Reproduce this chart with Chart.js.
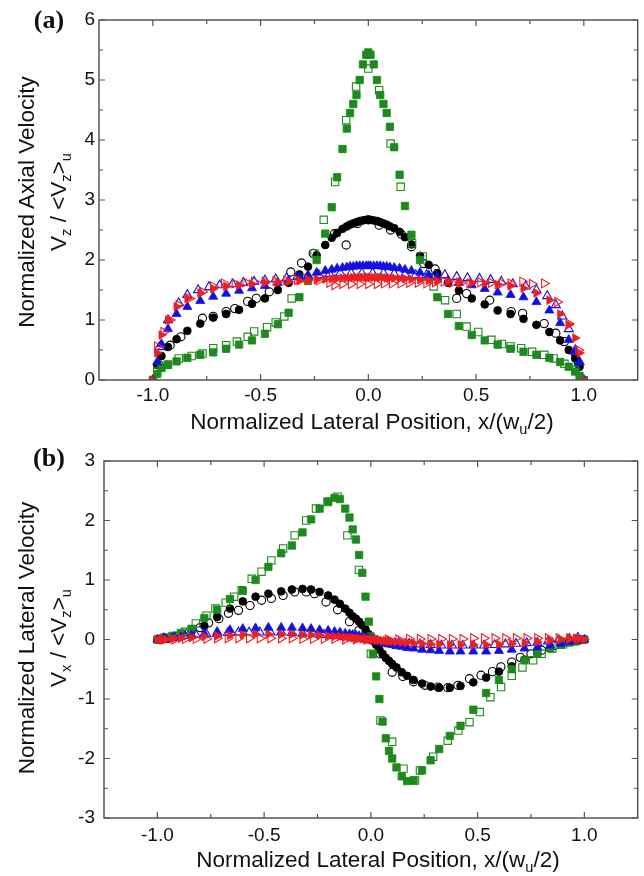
<!DOCTYPE html>
<html>
<head>
<meta charset="utf-8">
<script src="https://cdn.jsdelivr.net/npm/chart.js@4.4.1/dist/chart.umd.min.js"></script>
<style>
body { margin: 0; background: #fff; }
#page { position: relative; width: 644px; height: 876px; overflow: hidden; background: #fff; }
canvas { position: absolute; left: 0; }
.t { position: absolute; white-space: nowrap; font-family: "Liberation Sans", Arial, sans-serif; font-size: 22.5px; color: #111; transform: translate(-50%, -50%); line-height: 1; }
.v { transform: translate(-50%, -50%) rotate(-90deg); }
.t sub { font-size: 65%; vertical-align: -0.35em; }
.p { position: absolute; font-family: "Liberation Serif", "Times New Roman", serif; font-weight: bold; font-size: 26px; color: #111; transform: translate(-50%, -50%); line-height: 1; }
</style>
</head>
<body>
<div id="page">
  <canvas id="chartA" width="644" height="440" style="top:0"></canvas>
  <canvas id="chartB" width="644" height="436" style="top:440px"></canvas>

  <div class="p" style="left:49px; top:20px">(a)</div>
  <div class="t v" style="left:27px; top:202px">Normalized Axial Velocity</div>
  <div class="t v" style="left:61px; top:202px">V<sub>z</sub> / &lt;V<sub>z</sub>&gt;<sub>u</sub></div>
  <div class="t" style="left:372px; top:424px">Normalized Lateral Position, x/(w<sub>u</sub>/2)</div>

  <div class="p" style="left:49px; top:458px">(b)</div>
  <div class="t v" style="left:27px; top:638px">Normalized Lateral Velocity</div>
  <div class="t v" style="left:61px; top:638px">V<sub>x</sub> / &lt;V<sub>z</sub>&gt;<sub>u</sub></div>
  <div class="t" style="left:378px; top:862px">Normalized Lateral Position, x/(w<sub>u</sub>/2)</div>
</div>

<script>
// axis ticks
const xTickVals = [-1.0, -0.5, 0.0, 0.5, 1.0];
const xMarks = [-1.0, -0.75, -0.5, -0.25, 0.0, 0.25, 0.5, 0.75, 1.0];
const yTicksA = [0, 1, 2, 3, 4, 5, 6];
const yMarksA = [0, 0.5, 1, 1.5, 2, 2.5, 3, 3.5, 4, 4.5, 5, 5.5, 6];
const yTicksB = [-3, -2, -1, 0, 1, 2, 3];
const yMarksB = [-3, -2.5, -2, -1.5, -1, -0.5, 0, 0.5, 1, 1.5, 2, 2.5, 3];

// lateral positions of the dense (filled symbol) profiles
const xFine = [-1.0, -0.98, -0.96, -0.93, -0.89, -0.84, -0.78, -0.72, -0.66, -0.6, -0.54, -0.48, -0.42, -0.37, -0.32, -0.28, -0.24, -0.2, -0.17, -0.145, -0.12, -0.1, -0.085, -0.07, -0.055, -0.04, -0.025, -0.01,
  0,
  0.01, 0.025, 0.04, 0.055, 0.07, 0.085, 0.1, 0.12, 0.145, 0.17, 0.2, 0.24, 0.28, 0.32, 0.37, 0.42, 0.48, 0.54, 0.6, 0.66, 0.72, 0.78, 0.84, 0.89, 0.93, 0.96, 0.98, 1.0];

// (a) axial velocity, filled symbols
const greenFillA = [0.0, 0.1, 0.2, 0.25, 0.31, 0.37, 0.42, 0.46, 0.52, 0.59, 0.66, 0.77, 0.93, 1.12, 1.38, 1.65, 2.0, 2.44, 2.88, 3.38, 3.85, 4.19, 4.45, 4.6, 4.75, 5.0, 5.26, 5.42, 5.46, 5.42, 5.26, 5.0, 4.75, 4.6, 4.45, 4.22, 3.88, 3.42, 2.9, 2.42, 2.0, 1.72, 1.38, 1.1, 0.9, 0.75, 0.66, 0.59, 0.52, 0.47, 0.42, 0.37, 0.3, 0.22, 0.14, 0.07, 0.0];
const blackFillA = [0.0, 0.25, 0.4, 0.55, 0.68, 0.82, 0.94, 1.04, 1.1, 1.17, 1.27, 1.36, 1.5, 1.62, 1.76, 1.89, 2.08, 2.25, 2.37, 2.45, 2.52, 2.56, 2.59, 2.61, 2.63, 2.65, 2.66, 2.67, 2.67, 2.67, 2.66, 2.65, 2.63, 2.61, 2.59, 2.56, 2.53, 2.47, 2.38, 2.26, 2.07, 1.92, 1.78, 1.62, 1.49, 1.36, 1.26, 1.16, 1.1, 1.02, 0.92, 0.8, 0.66, 0.5, 0.36, 0.22, 0.0];
const blueFillA = [0.0, 0.3, 0.6, 0.85, 1.1, 1.22, 1.32, 1.39, 1.44, 1.49, 1.53, 1.57, 1.62, 1.66, 1.71, 1.75, 1.79, 1.82, 1.84, 1.86, 1.87, 1.88, 1.89, 1.89, 1.9, 1.9, 1.9, 1.9, 1.9, 1.9, 1.9, 1.9, 1.9, 1.89, 1.89, 1.88, 1.87, 1.86, 1.84, 1.82, 1.79, 1.75, 1.71, 1.66, 1.62, 1.58, 1.52, 1.46, 1.42, 1.38, 1.3, 1.16, 0.95, 0.67, 0.47, 0.3, 0.0];
const redFillA = [0.0, 0.45, 0.75, 1.0, 1.22, 1.36, 1.45, 1.52, 1.56, 1.58, 1.6, 1.62, 1.63, 1.64, 1.65, 1.66, 1.67, 1.68, 1.69, 1.69, 1.7, 1.7, 1.7, 1.71, 1.71, 1.71, 1.71, 1.71, 1.71, 1.71, 1.71, 1.71, 1.71, 1.71, 1.7, 1.7, 1.7, 1.69, 1.69, 1.68, 1.67, 1.66, 1.65, 1.64, 1.63, 1.62, 1.61, 1.59, 1.57, 1.53, 1.45, 1.33, 1.1, 0.92, 0.7, 0.45, 0.0];

// (a) axial velocity, open symbols
const greenOpenAx = [-0.98, -0.93, -0.88, -0.82, -0.77, -0.72, -0.66, -0.61, -0.56, -0.53, -0.47, -0.43, -0.39, -0.356, -0.3, -0.25, -0.207, -0.154, -0.103, -0.057, 0.0, 0.05, 0.103, 0.15, 0.203, 0.252, 0.303, 0.356, 0.41, 0.456, 0.51, 0.571, 0.62, 0.66, 0.709, 0.76, 0.816, 0.86, 0.91, 0.96];
const greenOpenAy = [0.14, 0.26, 0.36, 0.4, 0.44, 0.53, 0.58, 0.64, 0.72, 0.81, 0.88, 0.96, 1.06, 1.36, 1.7, 2.11, 2.67, 3.3, 4.33, 4.89, 5.19, 4.83, 3.94, 3.22, 2.28, 2.06, 1.56, 1.33, 1.1, 0.89, 0.8, 0.67, 0.6, 0.56, 0.53, 0.47, 0.42, 0.36, 0.27, 0.17];
const blackOpenAx = [-0.97, -0.92, -0.87, -0.77, -0.72, -0.66, -0.62, -0.56, -0.52, -0.46, -0.36, -0.31, -0.256, -0.157, -0.103, -0.05, 0.0, 0.05, 0.103, 0.153, 0.2, 0.257, 0.31, 0.41, 0.456, 0.563, 0.663, 0.716, 0.816, 0.87, 0.91, 0.96, 0.975];
const blackOpenAy = [0.25, 0.58, 0.72, 1.03, 1.06, 1.14, 1.19, 1.31, 1.36, 1.47, 1.8, 1.95, 2.11, 2.44, 2.25, 2.61, 2.67, 2.58, 2.5, 2.43, 2.22, 1.94, 1.85, 1.36, 1.44, 1.33, 1.14, 1.11, 0.94, 0.78, 0.64, 0.44, 0.28];
const blueOpenAx = [-0.97, -0.93, -0.88, -0.84, -0.79, -0.74, -0.69, -0.63, -0.58, -0.53, -0.48, -0.43, -0.38, -0.33, -0.28, -0.23, -0.18, -0.13, -0.08, -0.03, 0.02, 0.07, 0.12, 0.17, 0.22, 0.27, 0.31, 0.355, 0.41, 0.46, 0.516, 0.567, 0.617, 0.67, 0.73, 0.78, 0.83, 0.87, 0.9, 0.93, 0.96, 0.98];
const blueOpenAy = [0.55, 1.0, 1.28, 1.42, 1.5, 1.55, 1.58, 1.6, 1.62, 1.64, 1.66, 1.68, 1.7, 1.72, 1.73, 1.75, 1.77, 1.78, 1.78, 1.78, 1.78, 1.78, 1.77, 1.76, 1.75, 1.75, 1.75, 1.75, 1.72, 1.7, 1.69, 1.67, 1.64, 1.6, 1.56, 1.5, 1.4, 1.25, 1.06, 0.85, 0.5, 0.3];
const redOpenAx = [-0.98, -0.95, -0.92, -0.88, -0.83, -0.77, -0.72, -0.67, -0.62, -0.57, -0.53, -0.48, -0.43, -0.38, -0.33, -0.28, -0.23, -0.18, -0.157, -0.12, -0.08, -0.04, 0.0, 0.04, 0.073, 0.11, 0.15, 0.19, 0.23, 0.27, 0.31, 0.35, 0.39, 0.43, 0.47, 0.52, 0.57, 0.62, 0.66, 0.715, 0.76, 0.816, 0.877, 0.93, 0.975];
const redOpenAy = [0.56, 0.8, 1.0, 1.25, 1.36, 1.47, 1.56, 1.61, 1.61, 1.63, 1.64, 1.64, 1.65, 1.66, 1.67, 1.67, 1.66, 1.62, 1.58, 1.6, 1.6, 1.6, 1.6, 1.6, 1.61, 1.61, 1.61, 1.62, 1.62, 1.61, 1.63, 1.64, 1.62, 1.62, 1.61, 1.63, 1.62, 1.61, 1.61, 1.64, 1.6, 1.61, 1.3, 0.94, 0.5];

// (b) lateral velocity, filled symbols
const greenFillB = [0.0, 0.01, 0.03, 0.06, 0.11, 0.18, 0.36, 0.5, 0.68, 0.82, 1.0, 1.22, 1.45, 1.58, 1.8, 2.02, 2.2, 2.32, 2.38, 2.36, 2.2, 2.05, 1.85, 1.68, 1.42, 1.12, 0.72, 0.3, 0.05, -0.25, -0.62, -1.0, -1.38, -1.66, -1.87, -2.0, -2.15, -2.3, -2.38, -2.37, -2.2, -2.03, -1.84, -1.62, -1.45, -1.18, -0.9, -0.68, -0.5, -0.35, -0.24, -0.15, -0.09, -0.05, -0.03, -0.01, 0.0];
const blackFillB = [0.0, 0.01, 0.02, 0.04, 0.07, 0.13, 0.23, 0.38, 0.52, 0.64, 0.72, 0.77, 0.81, 0.84, 0.85, 0.84, 0.8, 0.74, 0.67, 0.6, 0.52, 0.45, 0.39, 0.35, 0.3, 0.24, 0.17, 0.09, 0.04, -0.02, -0.09, -0.17, -0.24, -0.31, -0.36, -0.41, -0.47, -0.55, -0.61, -0.68, -0.74, -0.79, -0.81, -0.81, -0.78, -0.72, -0.64, -0.54, -0.45, -0.34, -0.23, -0.14, -0.08, -0.04, -0.02, -0.01, 0.0];
const blueFillB = [0.0, 0.0, 0.01, 0.02, 0.04, 0.07, 0.1, 0.13, 0.16, 0.18, 0.19, 0.2, 0.2, 0.2, 0.19, 0.18, 0.16, 0.15, 0.13, 0.12, 0.1, 0.09, 0.08, 0.07, 0.06, 0.04, 0.03, 0.01, 0.0, -0.01, -0.03, -0.04, -0.06, -0.07, -0.08, -0.09, -0.11, -0.12, -0.14, -0.15, -0.17, -0.18, -0.19, -0.2, -0.2, -0.2, -0.2, -0.19, -0.17, -0.15, -0.13, -0.1, -0.07, -0.04, -0.02, -0.01, 0.0];
const redFillB = [0.0, 0.0, 0.0, 0.01, 0.02, 0.03, 0.05, 0.06, 0.07, 0.08, 0.09, 0.09, 0.09, 0.09, 0.08, 0.08, 0.07, 0.06, 0.05, 0.05, 0.04, 0.03, 0.03, 0.02, 0.02, 0.01, 0.01, 0.0, 0.0, 0.0, -0.01, -0.01, -0.02, -0.02, -0.03, -0.03, -0.04, -0.05, -0.05, -0.06, -0.07, -0.08, -0.08, -0.09, -0.09, -0.09, -0.09, -0.08, -0.07, -0.06, -0.04, -0.02, 0.0, 0.01, 0.02, 0.01, 0.0];

// (b) lateral velocity, open symbols
const greenOpenBx = [-0.97, -0.92, -0.87, -0.82, -0.77, -0.728, -0.68, -0.64, -0.605, -0.558, -0.512, -0.466, -0.411, -0.357, -0.303, -0.257, -0.203, -0.156, -0.11, -0.056, 0.0, 0.045, 0.1, 0.153, 0.207, 0.23, 0.292, 0.36, 0.41, 0.462, 0.51, 0.56, 0.61, 0.66, 0.71, 0.76, 0.8, 0.85, 0.9, 0.95];
const greenOpenBy = [0.03, 0.06, 0.13, 0.27, 0.4, 0.52, 0.62, 0.72, 0.83, 1.02, 1.14, 1.33, 1.53, 1.75, 2.0, 2.2, 2.31, 2.4, 1.75, 1.17, -0.24, -1.36, -1.72, -2.17, -2.37, -2.2, -1.97, -1.7, -1.53, -1.39, -1.22, -0.97, -0.8, -0.61, -0.47, -0.35, -0.24, -0.15, -0.08, -0.03];
const blackOpenBx = [-0.99, -0.95, -0.9, -0.85, -0.8, -0.76, -0.712, -0.667, -0.62, -0.566, -0.512, -0.466, -0.411, -0.357, -0.303, -0.264, -0.21, -0.156, -0.1, -0.056, 0.0, 0.045, 0.1, 0.15, 0.2, 0.253, 0.315, 0.36, 0.408, 0.462, 0.516, 0.57, 0.609, 0.66, 0.7, 0.75, 0.8, 0.86, 0.92, 0.97];
const blackOpenBy = [0.0, 0.02, 0.06, 0.12, 0.2, 0.28, 0.35, 0.44, 0.49, 0.57, 0.66, 0.69, 0.74, 0.8, 0.8, 0.77, 0.63, 0.5, 0.3, 0.15, 0.0, -0.24, -0.55, -0.62, -0.71, -0.77, -0.8, -0.81, -0.77, -0.66, -0.6, -0.54, -0.46, -0.38, -0.3, -0.24, -0.18, -0.1, -0.04, -0.01];
const openBx = [-0.97, -0.92, -0.87, -0.82, -0.77, -0.72, -0.67, -0.62, -0.57, -0.52, -0.47, -0.42, -0.37, -0.32, -0.27, -0.22, -0.17, -0.12, -0.07, -0.02, 0.03, 0.08, 0.13, 0.18, 0.23, 0.28, 0.33, 0.38, 0.43, 0.48, 0.53, 0.58, 0.63, 0.68, 0.73, 0.78, 0.83, 0.88, 0.93, 0.97];
const blueOpenBy = [0.02, 0.04, 0.06, 0.08, 0.09, 0.1, 0.11, 0.12, 0.12, 0.12, 0.12, 0.12, 0.11, 0.1, 0.09, 0.08, 0.06, 0.04, 0.02, 0.0, -0.02, -0.04, -0.06, -0.07, -0.08, -0.09, -0.1, -0.1, -0.1, -0.1, -0.1, -0.09, -0.08, -0.07, -0.06, -0.05, -0.03, -0.01, 0.01, 0.03];
const redOpenBy = [0.0, 0.0, 0.01, 0.01, 0.01, 0.02, 0.02, 0.02, 0.02, 0.02, 0.02, 0.02, 0.02, 0.01, 0.01, 0.01, 0.01, 0.0, 0.0, 0.0, 0.0, 0.0, 0.0, 0.01, 0.01, 0.01, 0.01, 0.01, 0.01, 0.02, 0.02, 0.02, 0.02, 0.02, 0.02, 0.02, 0.02, 0.02, 0.02, 0.01];

const GREEN = "#1c8a1c";
const BLACK = "#000000";
const BLUE = "#1010e6";
const RED = "#ec2020";

function pts(xs, ys) {
    return xs.map((x, i) => ({ x: x, y: ys[i] }));
}

function series(xs, ys, color, style, filled, radius, rotation) {
    return {
        data: pts(xs, ys),
        showLine: false,
        pointStyle: style,
        pointRadius: radius,
        pointHoverRadius: radius,
        pointRotation: rotation || 0,
        pointBackgroundColor: filled ? color : "rgba(0,0,0,0)",
        pointBorderColor: color,
        pointBorderWidth: filled ? 0.8 : 1.1
    };
}

// box around the plot and inward tick marks on all four sides
const frame = {
    id: "frame",
    afterDraw(chart, args, opts) {
        const ctx = chart.ctx;
        const a = chart.chartArea;
        const x = chart.scales.x;
        const y = chart.scales.y;
        ctx.save();
        ctx.strokeStyle = "#555";
        ctx.lineWidth = 1.5;
        ctx.strokeRect(a.left, a.top, a.right - a.left, a.bottom - a.top);
        ctx.lineWidth = 1.2;
        ctx.beginPath();
        opts.xMarks.forEach(v => {
            const px = x.getPixelForValue(v);
            const len = Number.isInteger(v * 2) ? 6 : 4;
            ctx.moveTo(px, a.bottom); ctx.lineTo(px, a.bottom - len);
            ctx.moveTo(px, a.top); ctx.lineTo(px, a.top + len);
        });
        opts.yMarks.forEach(v => {
            const py = y.getPixelForValue(v);
            const len = Number.isInteger(v) ? 6 : 4;
            ctx.moveTo(a.left, py); ctx.lineTo(a.left + len, py);
            ctx.moveTo(a.right, py); ctx.lineTo(a.right - len, py);
        });
        ctx.stroke();
        ctx.restore();
    }
};

function makeChart(id, datasets, yMin, yMax, yTicks, yMarks, yWidth, xHeight, padTop, xPad, yPad) {
    const font = { family: "'Liberation Sans', Arial, sans-serif", size: 19 };
    return new Chart(document.getElementById(id), {
        type: "scatter",
        data: { datasets: datasets },
        options: {
            responsive: false,
            animation: false,
            events: [],
            layout: { padding: { top: padTop, right: 1, left: 0, bottom: 0 } },
            plugins: {
                legend: { display: false },
                tooltip: { enabled: false },
                frame: { xMarks: xMarks, yMarks: yMarks }
            },
            scales: {
                x: {
                    type: "linear",
                    min: -1.25,
                    max: 1.25,
                    grid: { display: false, drawTicks: false },
                    border: { display: false },
                    afterBuildTicks: s => { s.ticks = xTickVals.map(v => ({ value: v })); },
                    afterFit: s => { s.height = xHeight; },
                    ticks: { font: font, color: "#111", padding: xPad, maxRotation: 0, callback: v => v.toFixed(1) }
                },
                y: {
                    type: "linear",
                    min: yMin,
                    max: yMax,
                    grid: { display: false, drawTicks: false },
                    border: { display: false },
                    afterBuildTicks: s => { s.ticks = yTicks.map(v => ({ value: v })); },
                    afterFit: s => { s.width = yWidth; },
                    ticks: { font: font, color: "#111", padding: yPad, callback: v => String(v) }
                }
            }
        },
        plugins: [frame]
    });
}

const datasetsA = [
    series(xFine, redFillA, RED, "triangle", true, 5.0, 90),
    series(redOpenAx, redOpenAy, RED, "triangle", false, 5.2, 90),
    series(xFine, blueFillA, BLUE, "triangle", true, 5.2, 0),
    series(blueOpenAx, blueOpenAy, BLUE, "triangle", false, 5.2, 0),
    series(xFine, greenFillA, GREEN, "rect", true, 5.2, 0),
    series(greenOpenAx, greenOpenAy, GREEN, "rect", false, 5.2, 0),
    series(xFine, blackFillA, BLACK, "circle", true, 3.9, 0),
    series(blackOpenAx, blackOpenAy, BLACK, "circle", false, 4.1, 0)
];

const datasetsB = [
    series(xFine, redFillB, RED, "triangle", true, 5.0, 90),
    series(openBx, redOpenBy, RED, "triangle", false, 5.2, 90),
    series(xFine, blueFillB, BLUE, "triangle", true, 5.2, 0),
    series(openBx, blueOpenBy, BLUE, "triangle", false, 5.2, 0),
    series(xFine, greenFillB, GREEN, "rect", true, 5.2, 0),
    series(greenOpenBx, greenOpenBy, GREEN, "rect", false, 5.2, 0),
    series(xFine, blackFillB, BLACK, "circle", true, 3.9, 0),
    series(blackOpenBx, blackOpenBy, BLACK, "circle", false, 4.1, 0)
];

makeChart("chartA", datasetsA, 0, 6, yTicksA, yMarksA, 99, 60, 20, 4, 4);
makeChart("chartB", datasetsB, -3, 3, yTicksB, yMarksB, 104, 58, 21, 6, 9);
</script>
</body>
</html>
